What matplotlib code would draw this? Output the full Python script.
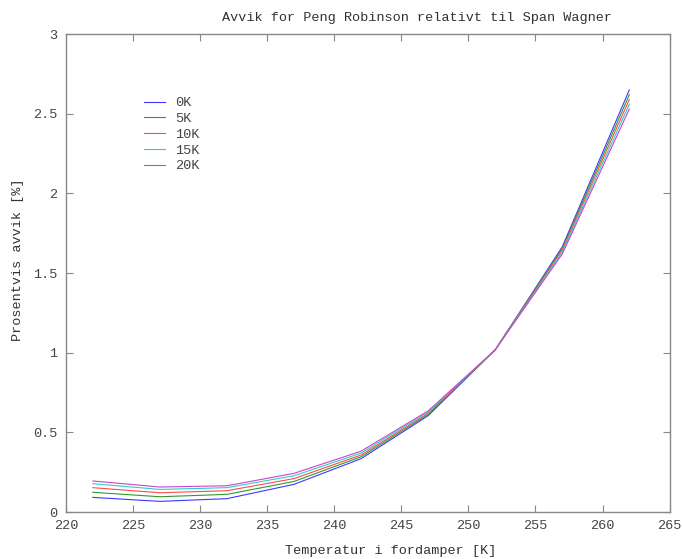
import numpy as np
import matplotlib
matplotlib.use('Agg')
import matplotlib.pyplot as plt
from matplotlib.ticker import FormatStrFormatter

# temperatures in evaporator [K]
temp = [222, 227, 232, 237, 242, 247, 252, 257, 262]

# deviation Peng Robinson vs Span Wagner [%], per superheat
avvik_0K = [0.092, 0.067, 0.084, 0.174, 0.335, 0.605, 1.018, 1.665, 2.65]
avvik_5K = [0.124, 0.096, 0.111, 0.192, 0.347, 0.612, 1.018, 1.655, 2.62]
avvik_10K = [0.153, 0.121, 0.134, 0.210, 0.358, 0.620, 1.018, 1.645, 2.59]
avvik_15K = [0.178, 0.142, 0.153, 0.228, 0.370, 0.628, 1.018, 1.632, 2.56]
avvik_20K = [0.195, 0.157, 0.165, 0.243, 0.382, 0.635, 1.018, 1.620, 2.53]

labels = ['0K', '5K', '10K', '15K', '20K']
colors = ['#3a3aff', '#2f9a2f', '#ff4a4a', '#30cccc', '#cc44cc']

plt.rcParams['font.family'] = ['Liberation Mono', 'DejaVu Sans Mono']
plt.rcParams['font.size'] = 9.7

fig = plt.figure(figsize=(6.82, 5.59), dpi=100)
ax = fig.add_axes([0.0968, 0.084, 0.885, 0.855])

series = [avvik_0K, avvik_5K, avvik_10K, avvik_15K, avvik_20K]
for y, lab, c in zip(series, labels, colors):
    ax.plot(temp, y, color=c, lw=0.8, label=lab)

ax.set_xlim(220, 265)
ax.set_ylim(0, 3)
ax.set_xticks(np.arange(220, 266, 5))
ax.set_yticks(np.arange(0, 3.01, 0.5))
ax.yaxis.set_major_formatter(FormatStrFormatter('%g'))

for s in ax.spines.values():
    s.set_color('#888888')
    s.set_linewidth(1.0)
ax.tick_params(direction='in', length=5, color='#888888', labelcolor='#444444',
               top=True, right=True, pad=6)

fig.text(0.612, 1 - 18 / 559, 'Avvik for Peng Robinson relativt til Span Wagner',
         ha='center', va='center', color='#333333')
fig.text(391 / 682, 1 - 551 / 559, 'Temperatur i fordamper [K]',
         ha='center', va='center', color='#333333')
fig.text(18 / 682, 1 - 260 / 559, 'Prosentvis avvik [%]', rotation=90,
         ha='center', va='center', color='#333333')

leg = ax.legend(loc='upper left', bbox_to_anchor=(0.12, 0.88), frameon=False,
                handlelength=1.6, handletextpad=0.7, labelspacing=0.25,
                borderaxespad=0)
for t in leg.get_texts():
    t.set_color('#444444')

fig.savefig('out.png', dpi=100)
